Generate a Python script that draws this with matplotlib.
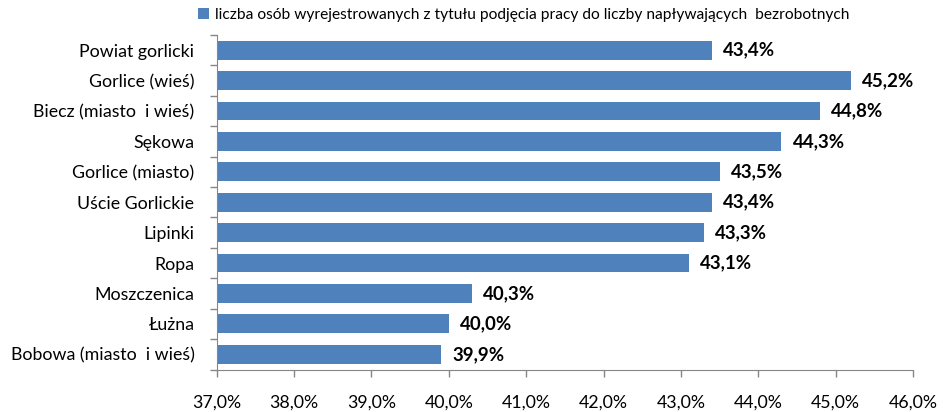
import matplotlib
matplotlib.use("Agg")
import matplotlib.pyplot as plt
from matplotlib.ticker import FixedLocator

plt.rcParams['font.family'] = ['Lato', 'DejaVu Sans']

categories = ["Powiat gorlicki", "Gorlice (wieś)", "Biecz (miasto  i wieś)", "Sękowa",
              "Gorlice (miasto)", "Uście Gorlickie", "Lipinki", "Ropa",
              "Moszczenica", "Łużna", "Bobowa (miasto  i wieś)"]
values = [43.4, 45.2, 44.8, 44.3, 43.5, 43.4, 43.3, 43.1, 40.3, 40.0, 39.9]
xticks = [37, 38, 39, 40, 41, 42, 43, 44, 45, 46]
legend_label = "liczba osób wyrejestrowanych z tytułu podjęcia pracy do liczby napływających  bezrobotnych"

fig = plt.figure(figsize=(9.43, 4.12), dpi=100)
ax = fig.add_axes([216.7/943, 1-369.5/412, (913-216.7)/943, (369.5-35)/412])

ypos = list(range(len(categories)))
ax.barh(ypos, values, height=0.62, color='#4F81BD', label=legend_label, zorder=2)
ax.set_xlim(37, 46)
ax.set_ylim(len(categories)-0.5, -0.5)
ax.set_yticks(ypos)
ax.set_yticklabels(categories, fontsize=12.8)
ax.yaxis.set_minor_locator(FixedLocator([i-0.5 for i in range(len(categories)+1)]))
ax.tick_params(axis='y', which='major', length=0, pad=16)
ax.tick_params(axis='y', which='minor', length=5, color='#868686', width=1)
ax.set_xticks(xticks)
ax.set_xticklabels([f"{t:.1f}%".replace('.', ',') for t in xticks], fontsize=12.8)
ax.tick_params(axis='x', length=5, color='#868686', width=1, pad=13)

for s in ['top', 'right']:
    ax.spines[s].set_visible(False)
for s in ['left', 'bottom']:
    ax.spines[s].set_color('#868686')

for y, v in zip(ypos, values):
    ax.annotate(f"{v:.1f}%".replace('.', ','), xy=(v, y), xytext=(8, 0),
                textcoords='offset points', va='center', ha='left',
                fontsize=13.5, fontweight='bold')

fig.legend(loc='upper left', bbox_to_anchor=(198/943, 1-8/412), frameon=False,
           fontsize=11.2, handlelength=0.7, handleheight=0.7, handletextpad=0.4,
           borderaxespad=0, borderpad=0)

fig.savefig("out.png", dpi=100)
